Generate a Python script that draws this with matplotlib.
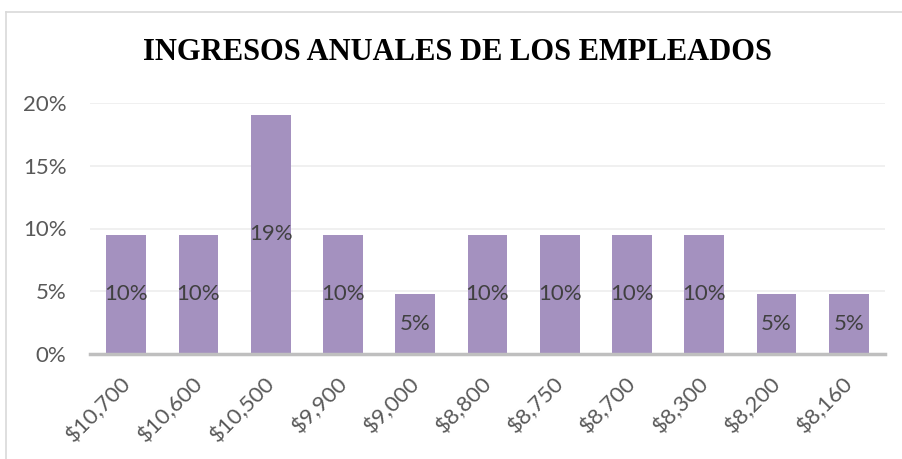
import matplotlib
matplotlib.use('Agg')
import matplotlib.pyplot as plt
import matplotlib.transforms as mtransforms
from matplotlib.lines import Line2D

# data
ingresos = ['$10,700', '$10,600', '$10,500', '$9,900', '$9,000', '$8,800',
            '$8,750', '$8,700', '$8,300', '$8,200', '$8,160']
porcentajes = [9.52, 9.52, 19.05, 9.52, 4.76, 9.52, 9.52, 9.52, 9.52, 4.76, 4.76]
etiquetas = ['10%', '10%', '19%', '10%', '5%', '10%', '10%', '10%', '10%', '5%', '5%']
yticks = [0, 5, 10, 15, 20]

W, H = 902, 459
fig = plt.figure(figsize=(W / 100, H / 100), dpi=100)
ax = fig.add_axes([90 / W, 1 - 354 / H, 795 / W, (354 - 103) / H])

x = range(len(ingresos))
ax.bar(x, porcentajes, width=0.55, color='#A491BF', zorder=2)
for i, (v, t) in enumerate(zip(porcentajes, etiquetas)):
    ax.text(i, v / 2, t, ha='center', va='center', fontsize=16,
            color='#404040', family='Lato', zorder=3)

ax.set_xlim(-0.5, len(ingresos) - 0.5)
ax.set_ylim(0, 20)
ax.set_yticks(yticks)
ax.set_yticklabels([f'{t}%' for t in yticks], fontsize=16, color='#595959', family='Lato')
ax.set_xticks(list(x))
ax.set_xticklabels(ingresos, rotation=45, ha='right', rotation_mode='anchor',
                   fontsize=16, color='#595959', family='Lato')
ax.tick_params(axis='both', length=0)
ax.tick_params(axis='y', pad=17)
ax.tick_params(axis='x', pad=14)
# nudge the rotated labels a bit to the left, like Excel does
shift = mtransforms.ScaledTranslation(-6 / 100, 0, fig.dpi_scale_trans)
for lbl in ax.get_xticklabels():
    lbl.set_transform(lbl.get_transform() + shift)
ax.grid(axis='y', color='#EEEEEE', linewidth=1.2, zorder=0)
for s in ['top', 'right', 'left']:
    ax.spines[s].set_visible(False)
ax.spines['bottom'].set_color('#BFBFBF')
ax.spines['bottom'].set_linewidth(2.5)
ax.spines['bottom'].set_zorder(4)

fig.text(457 / W, 1 - 52 / H, 'INGRESOS ANUALES DE LOS EMPLEADOS', ha='center', va='center',
         fontsize=22, fontweight='bold', family='Liberation Serif', color='black')

# chart border (top and left visible)
fig.add_artist(Line2D([6 / W, 1], [1 - 12 / H, 1 - 12 / H], transform=fig.transFigure,
                      color='#D9D9D9', linewidth=1.2))
fig.add_artist(Line2D([6 / W, 6 / W], [0, 1 - 12 / H], transform=fig.transFigure,
                      color='#D9D9D9', linewidth=1.2))

fig.savefig('out.png', dpi=100)
